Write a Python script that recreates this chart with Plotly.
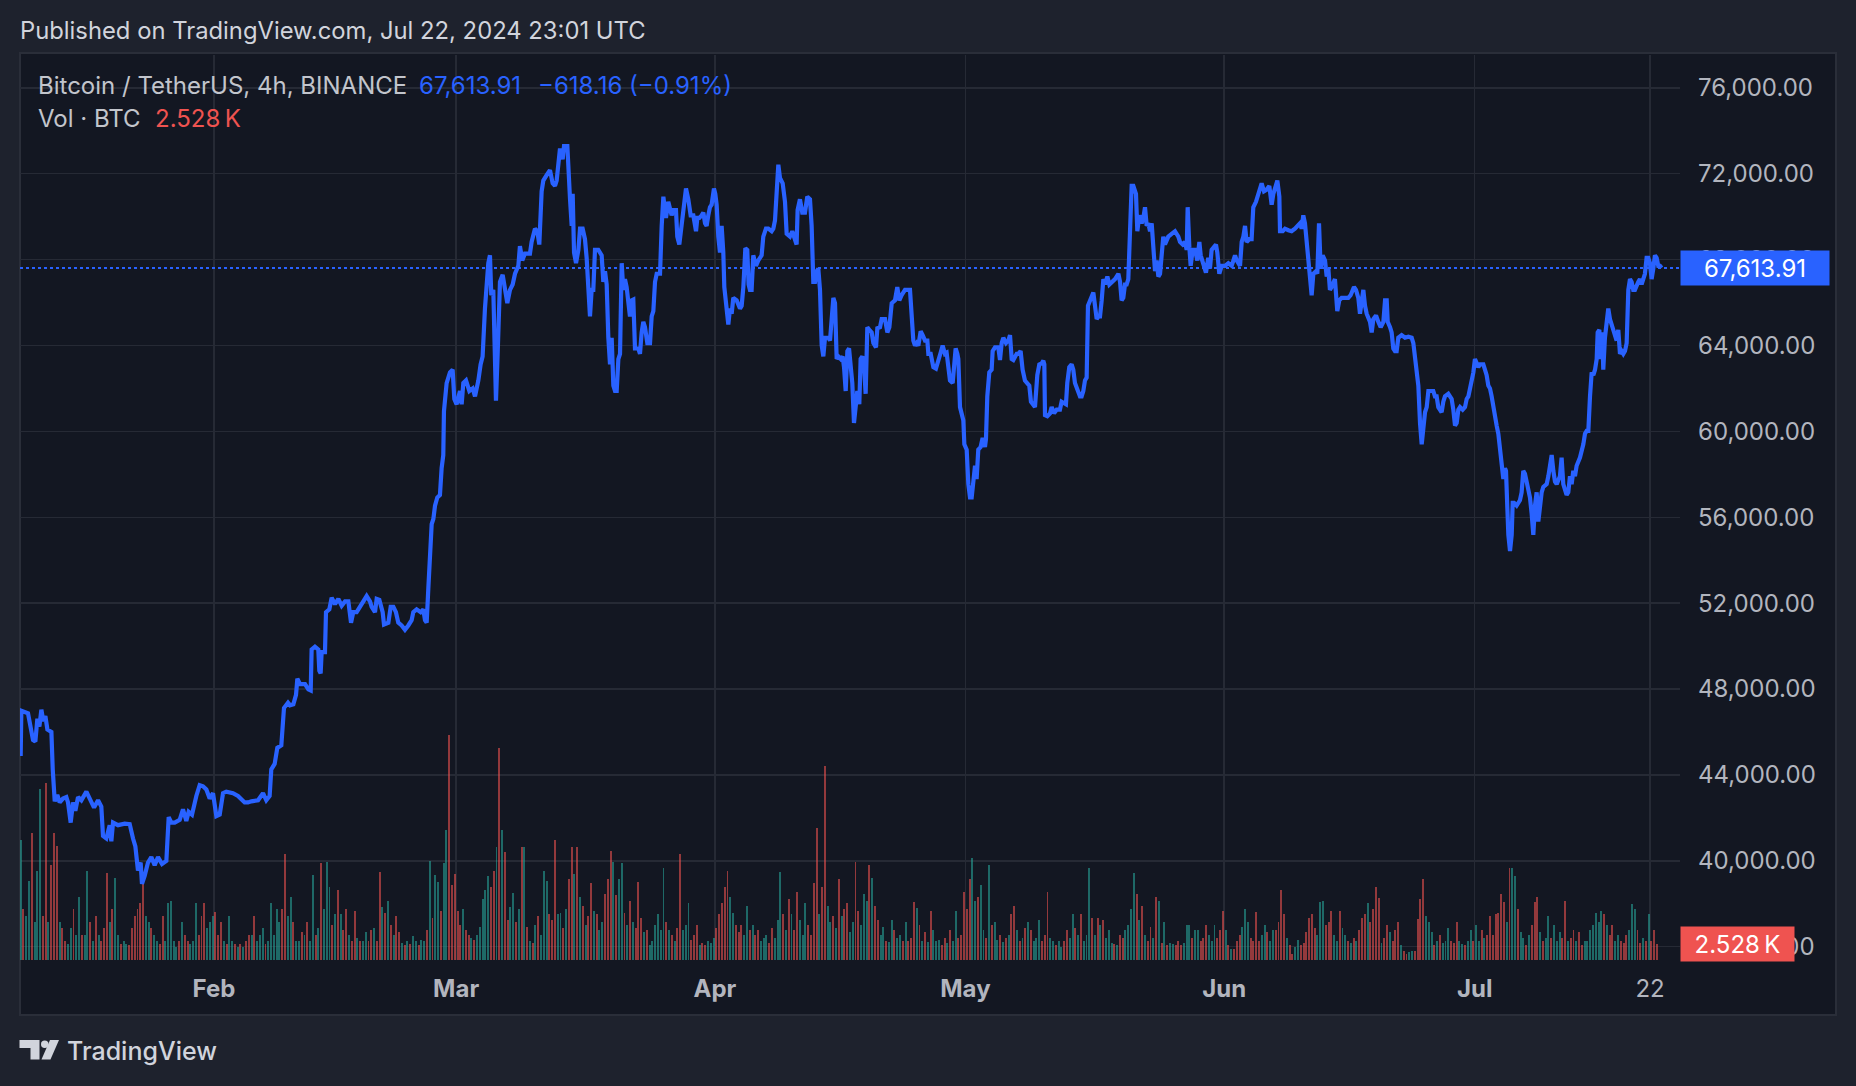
import pandas as pd
import plotly.graph_objects as go

BASE = pd.Timestamp("2024-01-01")

# ---- price (4h close): days since 2024-01-01, USDT ----
price_day = [
 7.84,7.92,8.72,9.04,9.32,9.60,9.84,10.08,10.32,10.56,10.80,11.04,11.52,11.68,11.92,12.23,12.51,12.91,13.31,13.51,
 13.83,14.11,14.39,14.71,15.11,15.71,16.11,16.63,17.11,17.50,17.70,18.10,18.50,18.70,18.90,19.50,20.30,20.90,21.30,21.58,
 21.89,22.21,22.37,22.69,23.09,23.49,23.89,24.29,24.77,25.29,25.57,25.89,26.29,26.89,27.28,27.68,27.96,28.36,28.88,29.28,
 29.68,30.08,30.48,30.88,31.28,31.68,32.08,32.47,33.27,33.87,34.67,35.07,35.47,36.27,36.87,37.26,37.66,37.86,38.26,38.58,
 39.06,39.38,39.86,
 40.10,40.50,40.82,40.98,41.30,41.90,42.30,42.58,42.69,43.09,43.49,43.61,43.77,43.89,44.29,44.41,44.81,45.09,45.49,45.89,
 46.29,46.69,47.09,47.41,47.68,48.08,48.48,48.88,49.28,49.68,49.88,50.28,50.48,50.80,51.20,51.36,51.88,52.16,52.48,52.79,
 53.07,53.47,53.87,54.27,54.67,54.87,55.27,55.75,56.07,56.27,56.47,56.67,56.87,57.07,57.27,57.47,57.74,58.06,58.26,58.46,
 58.54,58.86,59.26,59.58,59.78,60.06,60.46,60.66,60.86,61.18,61.58,61.98,62.26,62.66,62.93,63.17,63.45,63.65,63.85,64.05,
 64.21,64.45,64.61,64.77,64.97,65.25,65.57,65.85,66.13,66.45,66.77,67.05,67.45,67.64,67.92,68.24,68.84,69.04,69.44,69.72,
 69.96,70.24,70.44,70.84,71.24,71.56,71.84,72.04,72.24,
 72.44,72.76,72.92,73.32,73.44,73.64,73.84,73.96,74.12,74.36,74.64,74.84,75.15,75.43,75.63,75.83,76.03,76.23,76.43,76.63,
 77.03,77.43,77.63,77.83,78.03,78.23,78.43,78.63,78.83,79.03,79.23,79.43,79.63,79.83,80.02,80.22,80.42,80.82,81.02,81.22,
 81.42,81.82,82.02,82.22,82.42,82.62,82.90,83.22,83.42,83.62,83.82,84.02,84.42,84.62,84.82,85.13,85.41,85.81,86.01,86.33,
 86.49,86.73,87.01,87.21,87.53,87.81,88.09,88.41,88.73,88.89,89.13,89.41,89.61,89.81,90.00,90.20,90.40,90.60,90.88,91.04,
 91.20,91.40,91.60,91.80,92.00,92.12,92.40,92.60,92.80,93.00,93.20,93.60,94.00,94.20,94.40,94.64,94.87,95.03,95.19,95.39,
 95.59,95.91,96.19,96.59,96.79,97.11,97.39,97.79,97.99,98.19,98.59,98.79,99.11,99.39,99.59,99.98,100.26,100.58,100.78,100.90,
 101.18,101.46,101.78,102.06,102.38,102.58,102.78,102.98,103.18,103.38,103.58,103.78,103.98,104.18,104.58,
 104.78,104.98,105.18,105.38,105.58,105.78,106.06,106.30,106.46,106.66,106.86,107.06,107.26,107.45,107.65,107.85,108.05,108.29,108.45,108.65,
 108.85,109.05,109.25,109.49,109.77,109.97,110.29,110.45,110.77,110.97,111.37,111.65,111.89,112.17,112.56,112.84,113.08,113.36,113.76,114.36,
 114.56,114.76,114.96,115.16,115.36,115.64,115.88,116.16,116.44,116.56,116.84,117.16,117.47,117.75,118.03,118.27,118.55,118.75,118.95,119.15,
 119.47,119.63,119.83,120.03,120.15,120.35,120.55,120.75,120.87,121.15,121.35,121.55,121.75,121.95,122.15,122.34,122.54,122.82,123.06,123.34,
 123.46,123.62,123.86,124.14,124.26,124.54,124.94,125.14,125.34,125.54,125.86,126.14,126.34,126.54,126.74,127.14,127.34,127.61,127.85,128.13,
 128.41,128.65,128.85,129.13,129.33,129.61,129.85,130.13,130.33,130.45,130.53,130.81,131.13,131.33,131.61,131.93,132.32,132.52,132.84,133.04,
 133.20,133.44,133.72,133.92,134.12,134.40,134.72,134.92,135.12,135.32,135.52,135.68,135.92,136.12,136.32,136.52,136.72,136.92,
 137.12,137.32,137.52,137.72,138.00,138.24,138.52,138.92,139.32,139.52,139.71,139.91,140.11,140.31,140.51,140.71,140.91,141.11,141.43,141.59,
 141.83,142.11,142.31,142.51,142.71,142.91,143.11,143.31,143.51,143.71,143.91,144.11,144.31,144.51,144.70,144.90,145.30,145.70,146.10,146.50,
 146.70,147.02,147.30,147.50,147.62,147.82,147.98,148.22,148.50,148.78,149.02,149.18,149.50,149.81,150.09,150.29,150.49,150.69,151.01,151.17,
 151.41,151.69,152.09,152.49,152.89,153.29,153.49,153.89,154.09,154.29,154.49,154.68,155.00,155.28,155.48,155.80,156.08,156.48,156.76,157.08,
 157.40,157.56,157.68,157.88,158.20,158.36,158.60,158.68,159.00,159.28,159.68,160.07,160.47,160.87,161.07,161.27,161.47,161.67,161.87,162.07,
 162.27,162.47,162.67,162.99,163.15,163.35,163.55,163.79,164.07,164.27,164.47,164.66,164.86,165.06,165.26,165.54,165.78,166.06,166.46,166.86,
 167.14,167.38,167.54,167.78,168.06,168.26,168.46,168.66,168.86,169.06,
 169.46,169.66,169.86,170.18,170.46,170.74,171.06,171.26,171.46,171.58,171.86,172.05,172.25,172.45,172.65,172.85,173.25,173.65,174.05,174.45,
 174.65,174.85,175.05,175.25,175.45,175.65,175.85,176.05,176.25,176.45,176.65,177.04,177.24,177.44,177.64,177.84,178.04,178.24,178.44,178.84,
 179.24,179.44,179.64,179.84,180.04,180.24,180.56,180.84,181.04,181.24,181.44,181.64,181.84,182.03,182.23,182.43,182.63,183.03,183.23,183.43,
 183.63,183.83,184.03,184.23,184.43,184.63,184.83,185.03,185.23,185.43,185.63,185.75,185.91,186.03,186.23,186.43,186.55,186.71,187.02,187.42,
 187.62,187.82,188.02,188.22,188.42,188.62,188.82,189.02,189.22,189.42,189.62,189.82,190.02,190.22,190.62,190.82,191.02,191.22,191.42,191.62,
 191.82,192.01,192.21,192.41,192.61,193.01,193.21,193.41,193.61,193.81,194.01,194.21,194.61,195.01,195.21,195.41,195.61,195.81,196.01,196.21,
 196.41,196.61,196.73,196.93,197.08,197.28,197.40,197.60,197.80,198.00,198.20,198.40,198.60,198.80,199.00,199.20,199.40,199.60,199.80,200.00,
 200.20,200.40,200.60,200.80,200.99,201.19,201.39,201.59,201.79,201.99,202.19,202.39,202.59,202.79,202.99,203.19,203.39,203.59,203.79,203.99,
 204.19,204.39,
]
price_close = [
 44880,46990,46870,46250,45630,45550,46620,46250,47040,46500,46740,46120,46000,44260,42770,43070,42720,42900,42970,42720,
 41780,42720,42330,42970,42820,43220,42900,42480,42820,42530,41160,41040,41660,40910,41780,41660,41730,41710,41040,40670,
 39550,39920,38930,39300,39920,40170,39800,40170,39850,40000,42030,41780,41780,41910,42400,41860,42280,42150,43020,43520,
 43470,43320,42900,43150,42080,42150,43150,43220,43150,43020,42720,42720,42770,42820,43150,42820,43020,44260,44510,45260,
 45380,47120,47360,
 47240,47290,47730,48480,48230,48230,47980,47930,49840,49970,49840,48850,48730,49720,49720,51580,51710,52250,51950,52200,
 51880,52080,52080,51090,51580,51580,51830,52080,52330,52080,51830,51580,52200,52150,51580,51010,51090,51830,51830,51580,
 51090,50960,50760,50960,51210,51580,51710,51580,51710,51210,51090,52700,54190,55680,55920,56540,56920,57040,58280,58900,
 60930,62250,62750,62870,61510,61260,61880,61260,62250,62370,61880,62000,61630,62370,63120,63490,65720,66960,67830,68200,
 66340,66590,64610,61430,63610,66960,67290,66590,65970,66590,66840,67340,67710,68630,67960,68280,68280,68820,69440,69320,
 68700,71180,71680,71930,72170,71550,71430,71680,72670,
 73170,72670,73290,73290,72050,70810,69570,71060,68330,67830,68450,69440,69440,68950,68080,66340,65350,66590,66590,68450,
 68450,68200,66960,67460,66840,64360,63120,64360,62130,61880,61880,63370,63610,67830,66590,67090,66720,65350,66100,66140,
 63860,63860,63610,64610,65100,64850,64110,64110,65350,65600,66960,67340,67340,69570,70930,69940,70690,70060,70310,70310,
 69070,68700,69690,70310,71310,70810,70060,70060,69320,69940,69940,70060,70190,69690,69570,70060,70440,70560,71310,71060,
 70560,69070,68330,69570,68330,66720,65850,64980,65720,65480,66220,66100,65720,65850,66720,68530,68450,66840,66590,66590,
 68200,67710,67960,68200,69070,69440,69440,69320,69440,69820,72420,71800,71550,70690,69200,69070,69320,68820,68700,70310,
 70810,70190,70190,70930,70810,69570,66960,66960,67460,67580,66590,64020,63490,64360,64360,
 64230,65600,66220,65970,63370,63490,63370,63490,62990,61880,63740,63860,63120,62250,60390,61130,61880,61260,63370,63490,
 63120,61750,64850,64730,64610,64110,63910,64800,64850,65230,65230,64610,64850,65970,66100,66720,66100,66340,66590,66590,
 64980,64230,63990,64110,63990,64660,64480,64230,64230,63610,63610,62990,62920,63240,63660,63990,63610,63660,62750,62370,
 62250,63120,63860,63610,63370,61130,60760,60510,59400,59150,57540,56920,56920,57540,58400,57780,59150,59270,59690,59270,
 59640,61630,62750,62870,63740,63910,63910,63320,64110,64360,64110,64230,64480,63370,63320,63610,63610,63740,62870,62370,
 62250,62130,61380,61180,61130,62620,63120,63170,63290,63120,60760,60710,60840,61130,60840,61010,61010,61380,61330,61260,
 62250,62990,63120,62870,62250,61880,61630,61630,61880,62370,62500,65850,66100,66220,66470,65850,65230,65350,
 65350,66100,67090,66840,67210,66840,66960,67090,67340,66960,66100,66220,66840,66840,67090,69070,71430,71430,71060,69320,
 70060,69690,69940,70440,69570,69690,69320,69690,68450,67460,67960,67210,67340,68450,69070,68700,69070,69200,69320,69070,
 68820,68700,68820,68450,70440,68580,67710,68450,68450,67960,68820,68200,67710,67390,68080,67580,68450,68580,68700,68330,
 67340,67710,67710,67830,67710,68200,67960,67710,68820,69070,69570,68820,68950,68950,70440,70690,71060,71550,71180,71260,
 71430,71060,70560,71060,71550,71680,70930,69320,69320,69440,69370,69320,69440,69570,69690,69440,70060,69690,68820,68080,
 67210,66340,67340,67460,67340,69690,67580,68200,67960,67210,67580,66590,66720,66960,67090,65600,66100,66220,66220,66220,
 66340,66590,66720,66590,66220,65480,66220,66590,65850,65480,
 65100,64610,65230,65400,65100,64850,65100,66100,66100,65100,64850,64610,63860,63740,63740,64360,64480,64360,64410,64360,
 64110,63370,62620,62130,60390,59400,60140,60890,61130,61880,61880,61880,61630,61630,61130,61010,60890,61380,61630,61750,
 61510,61010,60270,60390,61010,61130,61010,61130,61510,61630,62000,62250,62750,63370,63120,62990,63120,63120,62870,62620,
 62130,62000,61630,61130,60510,60270,59890,59150,58160,57780,58280,58160,56420,55180,54430,55180,56670,56670,56540,56790,
 57160,58160,58030,57660,57160,56920,56170,55180,56540,57160,55800,56670,57160,57410,57540,57910,58530,58900,58160,57660,
 57540,57780,57910,58780,57540,57040,57160,57910,57540,58160,57910,58400,58780,59400,59890,60020,60020,61630,62750,62620,
 62870,63370,64610,64730,63370,64610,62870,64360,65350,65720,65230,64980,64850,64480,64230,64730,63610,63740,63610,63740,
 64110,66590,67090,66960,66590,66590,66840,66960,67090,66840,67090,67340,68080,68080,67830,67090,67580,68200,68080,67710,
 67710,67613.91,
]

# ---- volume (thousand BTC, 8h buckets) ----
VOL_START = "2024-01-08 20:00"
vol_k = [
 19,8,7,12.5,20,6,14,27,7,28, 6,15,20,18,6,5,3,2.5,5,8, 4,10,4,4,14,6,3,7,4,3,
 5,13.8,6,8,13,4,2.5,3,2.5,2.3, 5,7,8,9,12,7,6,5,4,3, 2.5,7,3,9,9.4,3,2,3,6,4,
 3,2.5,3,9,4,7,9,5,6,7, 7.6,4,6,3,2.5,7,3,2.5,2,2.5, 2,3,4,4,7,3,4,5,2.5,3,
 9,4,8,6,8,16.8,7,10,6,3,
 3,4.5,4,6,3,13.4,4,5,15.3,8, 15.5,11.6,5.6,7.3,11,7.3,4.7,8,4,3, 7.8,3.5,3,3,4.4,3,4.7,5,3,13.9,
 8.4,7.5,9.4,5.5,4,6.9,4.4,2.7,2.3,3, 2.5,3.8,3,2.3,3.1,3,4.7,15.7,6.7,13.5, 12.3,7.8,15.3,20.6,35.5,11.9,13.6,7.8,5.6,8,
 4.7,4,3.5,3.1,4,5.2,9.7,11,13.2,11.5, 14,17.8,33.5,20.6,17,6.4,8.4,10.6,6,8, 17.8,17.8,5.2,3,2.7,5.6,6.9,4,14,12.5,
 7.3,6.4,19,7.3,7.5,5,8,12.8,
 17.8,13.6,17.8,10,8.6,5.6,6.9,12.2,7.8,7.3, 4.7,6,10.4,12.8,17.2,15.5,10.3,12.8,15.3,7.5, 5.5,9.4,6,5,12.4,6.6,4.5,4.7,2.3,3,
 5.6,7.3,4.7,14.5,6,4.7,4,3,5,16.7, 4.7,5.5,9,3.1,4,5.6,2.3,2.7,2.3,3, 2.7,3.5,5,7.3,9,11.5,14,9.9,7.5,5.6,
 4.5,5.6,4,8.6,4.7,5.6,4,4.7,3,3.5, 4,2.7,5,3.5,6.4,13.9,7.3,4.7,9.7,7.3, 4.7,10.8,6.4,4,9,5.6,4,12.2,20.8,7.3,
 11.6,30.7,8.6,6,7,5,12.8,
 6.9,8,9,4.4,6,15.5,7.8,5.6,10.5,9.4, 15,12.9,8.6,6.4,4,5.2,3,2.8,6.4,4.7, 3.5,4,3,6,3,3.5,9.2,8.2,5.6,3,
 4.5,2.8,7.8,4.7,3,3.1,2.3,3.5,2.7,4.7, 3,7.8,3.5,4,10.7,8,12.8,16.1,9.4,10, 11.9,4.7,3.5,15,5.6,6,3.1,4,2.8,3.5,
 4,7.3,8.6,4.7,3,3.5,5,6,4.7,3, 3.5,6.4,3,4,10.7,3.5,3,2.3,3,2, 3,4.7,3.5,7.3,5,4,7.3,3,4,14.5,
 6.6,4,6.6,5.6,6.4,3.5,4.7,
 2.7,2.5,2.4,3.9,3.5,4.7,5.5,8,13.8,10.4, 6.4,8.6,4,3,5.2,3.5,10,9.4,2.7,6, 2.3,2.7,2.5,2.3,3,2.3,2.7,5.6,5.5,3.5,
 4.7,4.7,3,3.5,5.6,4,3,5.6,3.5,4.7, 7.8,4.7,2.3,1.8,1.8,3,4,5.2,8,6, 3.5,3,7.6,3,4,5.6,4.4,3,4.7,4.7,
 6,11,7.3,3.5,2.3,1,2,3.1,2.3,2.7, 4.5,6.6,7.3,5,4,9.2,9.4,5.6,6,7.8, 4,3,7.8,5,4,3,2.7,3.5,3,4.7,
 6.6,7.3,9,6,8,11.5,9.8,
 2.7,3.5,5.6,4.4,3,4.7,6,2.3,1.5,1, 1.2,1.4,1.5,6.5,9.7,12.8,7,6,4.4,2.3, 3,4,2.7,3,5,3,2.7,6,3,2.5,
 2.3,3,4.7,3,5.6,3,4.7,3.5,4,6.9, 4,7.2,7.5,10.5,9.2,6,14.5,14.5,13.3,8, 4.4,3.5,2.3,4,5.6,9.2,10,4.4,3,3.5,
 6.9,3.5,5.6,3,4.4,3.5,9.4,3,3.5,4.7, 3,4.4,2.3,3,3,4.7,5.6,7.5,6,7.8, 7.3,5.6,4,5.6,3,4,3,2.7,4,4.7,
 8.8,8,4.7,2.7,3.5,3,7.3,3,4.7,2.528,
]
vol_dir = (
 "grggrgggrr grrrgrrggr ggrggrgrgr rrgrggrggr rrrrrggrgg rrgggggrgr rgggrrrggg rrrgrggrgr grrgrgggrg ggggrrggrg"
 "grgrggrgrg ggrgrgrrgr rgrggrrgrr grgrgrrgrg rggrggrgrg grggrrrrrg rrgrgggggr rgrgrrggrg rgrgrgrggg rrrggrgr"
 "rgrgrgrrgr ggrrrgrggr grgrrrgrgg ggggrgrgrr gggrrrgrrg ggrrrrrggr rrggrgrrgg grrgggrgrg rrgggrrrrg rrggrgr"
 "grrggrrggg rgrrggrggr ggrgrrrgrg rgrgggrrgr ggrrrrrggr ggrgrggrgr grrgrgrgrg ggrrrggrgg rrggrgrggg rgrgrgg"
 "grgrrggggr grgrrgrgrg rggrrrgggr ggrrrgggrr rgrgrrrggg rrrrggrggr rrrgrrggrr rrrrgggrrr ggrggrgrgr rrgrrrr"
 "grrgrrrgrr ggrrrrgggr grgggrrrgg rggrggrgrr rrrrrgrggr ggrgrrrgrg grgggrrgrr grrggggggg rgrrggrrrg ggrrgrgrrr"
).replace(" ", "")
last_price = 67613.91
price_change = "\u2212618.16 (\u22120.91%)"
last_vol = 2.528

month_ticks = ["2024-02-01", "2024-03-01", "2024-04-01", "2024-05-01", "2024-06-01", "2024-07-01", "2024-07-22"]
month_labels = ["<b>Feb</b>", "<b>Mar</b>", "<b>Apr</b>", "<b>May</b>", "<b>Jun</b>", "<b>Jul</b>", "22"]
price_ticks = list(range(36000, 76001, 4000))

# ---- styling / geometry ----
W, H = 1856, 1086
L, R, T, B = 20, 1680, 55, 960
FONT = "Inter, Roboto, 'Noto Sans', sans-serif"
BG_OUT = "#1e222d"
BG_IN = "#131722"
GRID = "#262a35"
TXT = "#b2b5be"
BLUE = "#2962ff"
RED = "#ef5350"
UP = "rgba(38,166,154,0.58)"
DOWN = "rgba(239,83,80,0.58)"


def fx(px):
    return (px - L) / (R - L)


def fy(py):
    return (B - py) / (B - T)


price_x = [BASE + pd.Timedelta(days=d) for d in price_day]
vol_x = pd.date_range(VOL_START, periods=len(vol_k), freq="8h")
vol_colors = [UP if c == "g" else DOWN for c in vol_dir[:len(vol_k)]]

fig = go.Figure()
fig.add_trace(go.Bar(
    x=vol_x, y=vol_k, marker=dict(color=vol_colors, line=dict(width=0)),
    width=8 * 3600 * 1000 * 0.7, yaxis="y", hoverinfo="skip", showlegend=False,
))
fig.add_trace(go.Scatter(
    x=price_x, y=price_close, mode="lines", yaxis="y2",
    line=dict(color=BLUE, width=4.2), hoverinfo="skip", showlegend=False,
))

x0 = BASE + pd.Timedelta(days=7.76)
x1 = BASE + pd.Timedelta(days=206.59)

fig.update_layout(
    width=W, height=H,
    margin=dict(l=L, r=W - R, t=T, b=H - B, pad=0),
    paper_bgcolor=BG_OUT, plot_bgcolor=BG_IN,
    font=dict(family=FONT, color=TXT, size=24),
    showlegend=False, hovermode=False, bargap=0, dragmode=False,
    xaxis=dict(
        type="date", range=[x0, x1], tickvals=month_ticks, ticktext=month_labels,
        showgrid=True, gridcolor=GRID, gridwidth=1.5, zeroline=False, showline=False,
        ticks="", ticklabelstandoff=12, tickfont=dict(size=24, color=TXT, family=FONT),
    ),
    yaxis=dict(range=[0, 143], visible=False, fixedrange=True),
    yaxis2=dict(
        overlaying="y", side="right", range=[35381, 77528],
        tickvals=price_ticks, ticktext=[f"{v:,.2f}" for v in price_ticks],
        showgrid=True, gridcolor=GRID, gridwidth=1.5, zeroline=False, showline=False,
        ticks="", ticklabelstandoff=17, tickfont=dict(size=24, color=TXT, family=FONT),
    ),
)

shapes = [
    dict(type="rect", xref="paper", yref="paper", x0=fx(20), x1=fx(1836), y0=fy(1015), y1=fy(53),
         line=dict(color="#2a2e39", width=2), fillcolor=BG_IN, layer="below"),
    dict(type="line", xref="paper", yref="y2", x0=0, x1=1, y0=last_price, y1=last_price,
         line=dict(color=BLUE, width=2, dash="dot"), layer="above"),
]


def path(points):
    s = "M " + " L ".join(f"{fx(a):.5f},{fy(b):.5f}" for a, b in points) + " Z"
    return s


LOGO = "#d1d4dc"
shapes += [
    dict(type="path", xref="paper", yref="paper",
         path=path([(19.5, 1040), (39.5, 1040), (39.5, 1059.5), (30.5, 1059.5), (30.5, 1048), (19.5, 1048)]),
         fillcolor=LOGO, line=dict(width=0)),
    dict(type="circle", xref="paper", yref="paper", x0=fx(41), x1=fx(48.5), y0=fy(1048), y1=fy(1040.5),
         fillcolor=LOGO, line=dict(width=0)),
    dict(type="path", xref="paper", yref="paper",
         path=path([(50, 1040), (59, 1040), (50.5, 1059.5), (41.5, 1059.5)]),
         fillcolor=LOGO, line=dict(width=0)),
]
fig.update_layout(shapes=shapes)


def label(text, x, y, color, size=24, weight=None):
    f = dict(family=FONT, color=color, size=size)
    if weight:
        f["weight"] = weight
    return dict(text=text, xref="paper", yref="paper", x=fx(x), y=fy(y), xanchor="left",
                yanchor="middle", showarrow=False, font=f)


annotations = [
    label("Published on TradingView.com, Jul 22, 2024 23:01 UTC", 18, 31, "#d1d4dc", size=23.8),
    label("Bitcoin / TetherUS, 4h, BINANCE", 36, 85, "#c2c5cc"),
    label(f"{last_price:,.2f}", 417, 85, BLUE),
    label(price_change, 536, 85, BLUE),
    label("Vol \u00b7 BTC", 36, 118, "#c2c5cc"),
    label(f"{last_vol:.3f}\u2009K", 153, 118, RED),
    label("TradingView", 65, 1051, "#d1d4dc", size=25, weight=500),
    dict(text=f"{last_price:,.2f}", xref="paper", yref="y2", x=1, y=last_price, xanchor="left",
         yanchor="middle", showarrow=False, bgcolor=BLUE, width=148, height=34, borderpad=0,
         font=dict(family=FONT, color="#ffffff", size=24), align="center"),
    dict(text=f"{last_vol:.3f}\u2009K", xref="paper", yref="y", x=1, y=last_vol, xanchor="left",
         yanchor="middle", showarrow=False, bgcolor=RED, width=113, height=34, borderpad=0,
         font=dict(family=FONT, color="#ffffff", size=24), align="center"),
]
fig.update_layout(annotations=annotations)

fig.write_html(
    "out.html",
    config={"displayModeBar": False, "staticPlot": True},
    post_script="document.body.style.margin='0';document.body.style.background='#1e222d';",
)
